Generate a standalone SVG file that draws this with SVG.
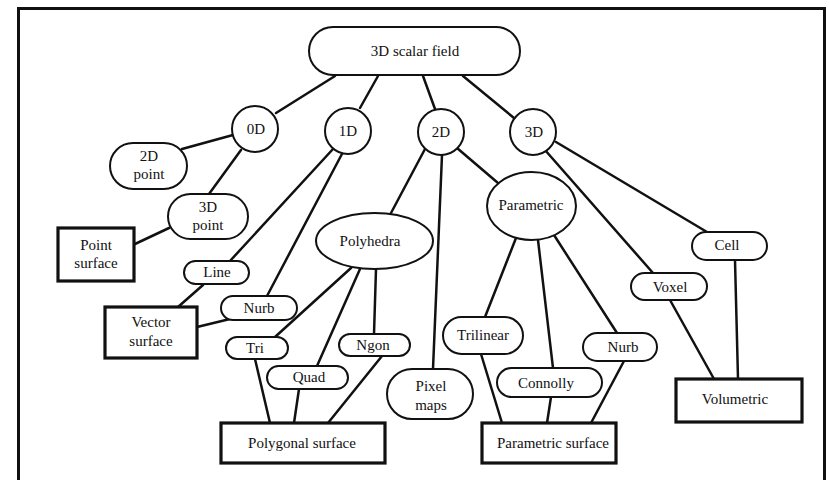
<svg xmlns="http://www.w3.org/2000/svg" width="829" height="480" viewBox="0 0 829 480">
  <style>
    .bg { fill: #ffffff; }
    .frame { fill: none; stroke: #111; stroke-width: 3; }
    .pill { fill: #fff; stroke: #111; stroke-width: 2; }
    .box { fill: #fff; stroke: #111; stroke-width: 3.2; }
    .edge { stroke: #111; stroke-width: 2.5; fill: none; stroke-linecap: round; }
    .lbl { font-family: 'Liberation Serif', 'DejaVu Serif', 'Times New Roman', serif; font-size: 15px; fill: #111; text-anchor: middle; }
  </style>
  <rect class="bg" x="0" y="0" width="829" height="480"/>
  <path class="frame" d="M18.5,480 V8.5 H824.5 V480"/>

  <!-- connectors -->
  <g id="edges">
    <line class="edge" x1="335" y1="76" x2="276" y2="113"/>
    <line class="edge" x1="378" y1="76" x2="360" y2="108"/>
    <line class="edge" x1="423" y1="76" x2="435" y2="109"/>
    <line class="edge" x1="463" y1="76" x2="514" y2="118"/>
    <line class="edge" x1="233" y1="135" x2="182" y2="149"/>
    <line class="edge" x1="241" y1="150" x2="209" y2="194"/>
    <line class="edge" x1="169" y1="228" x2="135" y2="244"/>
    <line class="edge" x1="333" y1="149" x2="230" y2="261"/>
    <line class="edge" x1="203" y1="285" x2="178" y2="307"/>
    <line class="edge" x1="343" y1="152" x2="267" y2="296"/>
    <line class="edge" x1="230" y1="319" x2="197" y2="327"/>
    <line class="edge" x1="425" y1="149" x2="391" y2="213"/>
    <line class="edge" x1="442" y1="155" x2="433" y2="369"/>
    <line class="edge" x1="457" y1="148" x2="498" y2="183"/>
    <line class="edge" x1="351" y1="268" x2="275" y2="337"/>
    <line class="edge" x1="360" y1="269" x2="317" y2="366"/>
    <line class="edge" x1="376" y1="269" x2="374" y2="334"/>
    <line class="edge" x1="255" y1="359" x2="270" y2="423"/>
    <line class="edge" x1="299" y1="389" x2="294" y2="423"/>
    <line class="edge" x1="382" y1="356" x2="328" y2="423"/>
    <line class="edge" x1="516" y1="238" x2="485" y2="317"/>
    <line class="edge" x1="538" y1="240" x2="553" y2="368"/>
    <line class="edge" x1="554" y1="235" x2="617" y2="333"/>
    <line class="edge" x1="481" y1="354" x2="502" y2="423"/>
    <line class="edge" x1="551" y1="397" x2="547" y2="423"/>
    <line class="edge" x1="624" y1="361" x2="591" y2="423"/>
    <line class="edge" x1="545" y1="150" x2="653" y2="273"/>
    <line class="edge" x1="556" y1="142" x2="707" y2="232"/>
    <line class="edge" x1="670" y1="300" x2="714" y2="379"/>
    <line class="edge" x1="735" y1="260" x2="738" y2="379"/>
  </g>

  <!-- nodes -->
  <g id="n-scalar-field">
    <rect class="pill" x="309" y="27" width="211" height="48" rx="24"/>
    <text class="lbl" x="415" y="56">3D scalar field</text>
  </g>
  <g id="n-0d">
    <circle class="pill" cx="255" cy="129" r="23"/>
    <text class="lbl" x="256" y="134">0D</text>
  </g>
  <g id="n-1d">
    <circle class="pill" cx="348" cy="131" r="23"/>
    <text class="lbl" x="348" y="136">1D</text>
  </g>
  <g id="n-2d">
    <circle class="pill" cx="441" cy="132" r="23"/>
    <text class="lbl" x="441" y="137">2D</text>
  </g>
  <g id="n-3d">
    <circle class="pill" cx="533" cy="132" r="23"/>
    <text class="lbl" x="534" y="137">3D</text>
  </g>
  <g id="n-2d-point">
    <rect class="pill" x="110" y="143" width="77" height="46" rx="23"/>
    <text class="lbl" x="149" y="161">2D</text>
    <text class="lbl" x="149" y="179">point</text>
  </g>
  <g id="n-3d-point">
    <rect class="pill" x="168" y="194" width="80" height="45" rx="22.5"/>
    <text class="lbl" x="208" y="212">3D</text>
    <text class="lbl" x="208" y="230">point</text>
  </g>
  <g id="n-point-surface">
    <rect class="box" x="58" y="228" width="76" height="53"/>
    <text class="lbl" x="96" y="250">Point</text>
    <text class="lbl" x="96" y="268">surface</text>
  </g>
  <g id="n-line">
    <rect class="pill" x="184" y="261" width="65" height="23" rx="11.5"/>
    <text class="lbl" x="217" y="277">Line</text>
  </g>
  <g id="n-nurb-1d">
    <rect class="pill" x="221" y="296" width="76" height="24" rx="12"/>
    <text class="lbl" x="259" y="313">Nurb</text>
  </g>
  <g id="n-vector-surface">
    <rect class="box" x="105" y="307" width="92" height="51"/>
    <text class="lbl" x="151" y="327">Vector</text>
    <text class="lbl" x="151" y="346">surface</text>
  </g>
  <g id="n-polyhedra">
    <ellipse class="pill" cx="374.5" cy="241" rx="58.5" ry="28"/>
    <text class="lbl" x="370" y="246">Polyhedra</text>
  </g>
  <g id="n-tri">
    <rect class="pill" x="226" y="337" width="62" height="22" rx="11"/>
    <text class="lbl" x="255" y="353">Tri</text>
  </g>
  <g id="n-quad">
    <rect class="pill" x="267" y="366" width="81" height="23" rx="11.5"/>
    <text class="lbl" x="309" y="382">Quad</text>
  </g>
  <g id="n-ngon">
    <rect class="pill" x="339" y="334" width="71" height="22" rx="11"/>
    <text class="lbl" x="373" y="350">Ngon</text>
  </g>
  <g id="n-polygonal-surface">
    <rect class="box" x="221" y="423" width="164" height="40"/>
    <text class="lbl" x="302" y="448">Polygonal surface</text>
  </g>
  <g id="n-pixel-maps">
    <rect class="pill" x="387" y="369" width="86" height="50" rx="25"/>
    <text class="lbl" x="431" y="391">Pixel</text>
    <text class="lbl" x="431" y="410">maps</text>
  </g>
  <g id="n-parametric">
    <ellipse class="pill" cx="531.5" cy="206" rx="44.5" ry="34"/>
    <text class="lbl" x="531" y="210">Parametric</text>
  </g>
  <g id="n-trilinear">
    <rect class="pill" x="443" y="317" width="80" height="37" rx="18.5"/>
    <text class="lbl" x="483" y="340">Trilinear</text>
  </g>
  <g id="n-connolly">
    <rect class="pill" x="497" y="368" width="105" height="29" rx="14.5"/>
    <text class="lbl" x="546" y="388">Connolly</text>
  </g>
  <g id="n-nurb-2d">
    <rect class="pill" x="583" y="333" width="74" height="28" rx="14"/>
    <text class="lbl" x="623" y="352">Nurb</text>
  </g>
  <g id="n-parametric-surface">
    <rect class="box" x="482" y="423" width="134" height="40"/>
    <text class="lbl" x="553" y="448">Parametric surface</text>
  </g>
  <g id="n-voxel">
    <rect class="pill" x="631" y="273" width="76" height="27" rx="13.5"/>
    <text class="lbl" x="670" y="292">Voxel</text>
  </g>
  <g id="n-cell">
    <rect class="pill" x="692" y="232" width="75" height="28" rx="14"/>
    <text class="lbl" x="727" y="250">Cell</text>
  </g>
  <g id="n-volumetric">
    <rect class="box" x="676" y="379" width="126" height="43"/>
    <text class="lbl" x="735" y="404">Volumetric</text>
  </g>
</svg>
